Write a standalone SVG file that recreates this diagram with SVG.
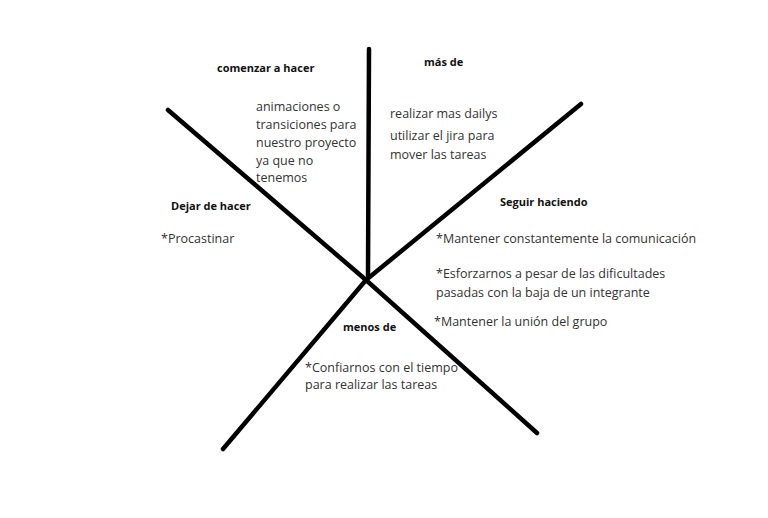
<svg xmlns="http://www.w3.org/2000/svg" width="768" height="518" viewBox="0 0 768 518">
<style>
.h{font-family:"Open Sans","Noto Sans","Liberation Sans",sans-serif;font-weight:bold;font-size:11px;fill:#111}
.t{font-family:"Open Sans","Noto Sans","Liberation Sans",sans-serif;font-size:12.5px;fill:#333}
.ln{stroke:#000;stroke-width:4.5;stroke-linecap:round;stroke-linejoin:round;fill:none}
</style>
<rect width="768" height="518" fill="#fff"/>
<g id="connectors">
<line class="ln" x1="369" y1="49" x2="368" y2="276"/>
<polyline class="ln" points="168,110 366,280 537,433"/>
<polyline class="ln" points="581,104 366,280 223,449"/>
</g>
<g id="comenzar">
<text class="h" x="217" y="72">comenzar a hacer</text>
<text class="t" x="256" y="111">animaciones o</text>
<text class="t" x="256" y="129">transiciones para</text>
<text class="t" x="256" y="147">nuestro proyecto</text>
<text class="t" x="256" y="165">ya que no</text>
<text class="t" x="256" y="182">tenemos</text>
</g>
<g id="masde">
<text class="h" x="424" y="66">más de</text>
<text class="t" x="390" y="118">realizar mas dailys</text>
<text class="t" x="390" y="140">utilizar el jira para</text>
<text class="t" x="390" y="159">mover las tareas</text>
</g>
<g id="dejar">
<text class="h" x="171" y="210">Dejar de hacer</text>
<text class="t" x="161" y="243">*Procastinar</text>
</g>
<g id="seguir">
<text class="h" x="500" y="206">Seguir haciendo</text>
<text class="t" x="436" y="243">*Mantener constantemente la comunicación</text>
<text class="t" x="436" y="278">*Esforzarnos a pesar de las dificultades</text>
<text class="t" x="436" y="297">pasadas con la baja de un integrante</text>
<text class="t" x="434" y="326">*Mantener la unión del grupo</text>
</g>
<g id="menos">
<text class="h" x="343" y="331">menos de</text>
<text class="t" x="305" y="372">*Confiarnos con el tiempo</text>
<text class="t" x="305" y="389">para realizar las tareas</text>
</g>
</svg>
